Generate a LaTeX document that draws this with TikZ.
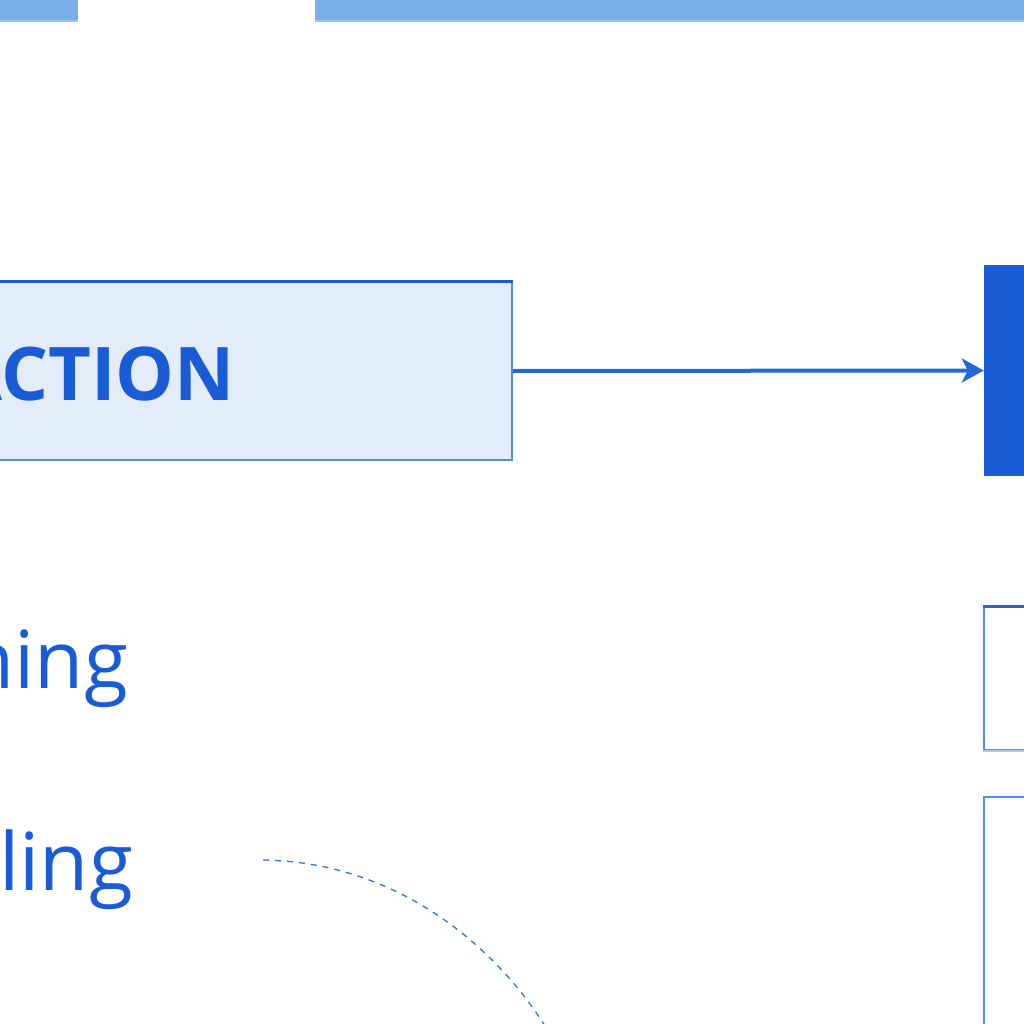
\documentclass[tikz,border=0pt]{standalone}
\usepackage{fontspec}
\setmainfont{Open Sans}
\usetikzlibrary{arrows.meta}
\definecolor{barblue}{HTML}{7BAFEB}
\definecolor{barline}{HTML}{9DC3F0}
\definecolor{dblue}{HTML}{1A5BD6}
\definecolor{mblue}{HTML}{4F8FE6}
\definecolor{lblue}{HTML}{A9CBF2}
\definecolor{boxfill}{HTML}{E2EDF9}
\definecolor{arrblue}{HTML}{2468D8}
\definecolor{dashblue}{HTML}{2C74E0}
\tikzset{
  panel/.style={draw=mblue, line width=1.5pt, rectangle, inner sep=0pt},
  solidblk/.style={fill=dblue, rectangle, inner sep=0pt, draw=none},
  bigword/.style={text=dblue, font=\fontsize{80}{90}\selectfont, inner sep=0pt, anchor=base east},
  flow/.style={draw=arrblue, line width=4pt, -{Stealth[length=22pt,width=24pt,inset=6pt]}},
  dashcurve/.style={draw=dashblue, line width=1.3pt, dash pattern=on 6pt off 6pt}
}
\begin{document}
\begin{tikzpicture}[x=1pt,y=-1pt]
\useasboundingbox (0,0) rectangle (1024,1024);
\clip (0,0) rectangle (1024,1024);
% top bar
\fill[barblue] (-10,-5) rectangle (78,20);
\fill[barblue] (315,-5) rectangle (1034,20);
\fill[barline] (-10,20) rectangle (78,22);
\fill[barline] (315,20) rectangle (1034,22);
% main box
\node[panel, fill=boxfill, minimum width=552pt, minimum height=178pt] (act) at (236,371) {};
\draw[dblue, line width=2.5pt] (act.north west) -- (act.north east);
\node[bigword, font=\bfseries\fontsize{74}{88}\selectfont] (acttxt) at (235,400) {ACTION};
% solid block
\node[solidblk, minimum width=100pt, minimum height=211pt] (blk) at (1034,370.5) {};
% arrow
\draw[flow] (act.east) -- (blk.west);
% right panels
\node[panel, fill=white, minimum width=100pt, minimum height=143pt] (p2) at (1034,678.5) {};
\draw[dblue!80!mblue, line width=2.5pt] (p2.north west) -- (p2.north east);
\draw[lblue, line width=2.5pt] (p2.south west) -- (p2.south east);
\node[panel, fill=white, minimum width=100pt, minimum height=300pt] (p3) at (1034,947) {};
% words
\node[bigword] (w1) at (128,688) {ning};
\node[bigword] (w2) at (133,890) {ling};
% dashed curve
\coordinate (c1) at (263,860);
\coordinate (c2) at (550,1034);
\draw[dashcurve] (c1) .. controls (400,862) and (500,950) .. (c2);
\end{tikzpicture}
\end{document}
